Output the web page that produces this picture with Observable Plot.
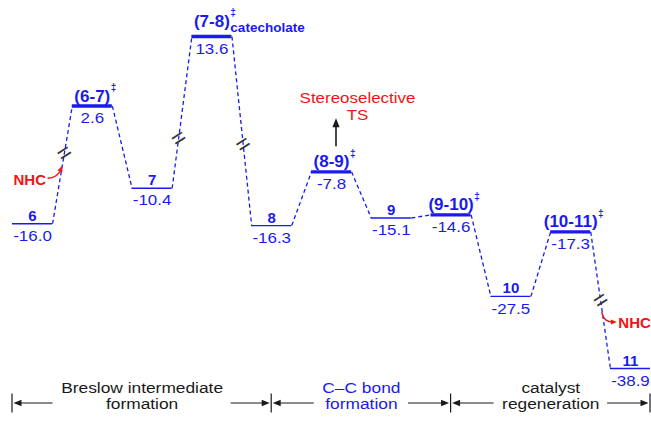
<!DOCTYPE html>
<html><head><meta charset="utf-8">
<script src="https://cdn.jsdelivr.net/npm/d3@7"></script>
<script src="https://cdn.jsdelivr.net/npm/@observablehq/plot@0.6"></script>
<style>body{margin:0;background:#fff;} #chart{width:651px;height:423px;}</style>
</head><body><div id="chart"></div>
<script>
// ---------------- data ----------------
const stages = ["6", "(6-7)", "7", "(7-8)", "8", "(8-9)", "9", "(9-10)", "10", "(10-11)", "11"];
const energies = [-16.0, 2.6, -10.4, 13.6, -16.3, -7.8, -15.1, -14.6, -27.5, -17.3, -38.9];
const valueLabels = ["-16.0", "2.6", "-10.4", "13.6", "-16.3", "-7.8", "-15.1", "-14.6", "-27.5", "-17.3", "-38.9"];
const transitionStates = ["(6-7)", "(7-8)", "(8-9)", "(9-10)", "(10-11)"];
const tsSubscripts = {"(7-8)": "catecholate"};
const brokenLinks = [0, 2, 3, 9];        // connectors (by starting stage) drawn with an axis break
const nhcAddedLink = 0;                   // NHC enters on this connector
const nhcReleasedLink = 9;                // NHC leaves on this connector
const stereoStage = "(8-9)";
const stereoLabel = "Stereoselective\nTS";
const nhcLabel = "NHC";
const sectionLabels = ["Breslow intermediate\nformation", "C\u2013C bond\nformation", "catalyst\nregeneration"];
const sectionFrom = ["6", "8", "(9-10)"];
const sectionTo = ["8", "(9-10)", "11"];

// ---------------- style ----------------
const BLUE = "#1a1aee", RED = "#f01414", INK = "#1a1a1a";
const FONT = '"Liberation Sans", Arial, Helvetica, sans-serif';
const HW = 0.335;               // half width of a level, in stage units
const REG_SCALE = 1.13;         // horizontal stretch of the regular-weight texts
const BREAK_T = {0: 0.6, 2: 0.33, 3: 0.57, 9: 0.5};
const NHC_IN_T = 0.48, NHC_OUT_T = 0.59;
const sectionColors = [INK, BLUE, INK];

// ---------------- derived tables ----------------
const levels = stages.map((s, i) => ({stage: s, i, E: energies[i], label: valueLabels[i], ts: transitionStates.includes(s)}));
const links = levels.slice(0, -1).map((d, k) => ({from: d, to: levels[k + 1], k}));
const along = (k, t) => {
  const l = links[k];
  return {x: l.from.i + HW + t * (1 - 2 * HW), y: l.from.E + t * (l.to.E - l.from.E)};
};
const breaks = brokenLinks.map(k => along(k, BREAK_T[k]));
const nhcIn = along(nhcAddedLink, NHC_IN_T);
const nhcOut = along(nhcReleasedLink, NHC_OUT_T);
const stereo = levels.find(d => d.stage === stereoStage);
const idx = s => stages.indexOf(s);
const sections = sectionLabels.map((label, j) => {
  const lo = idx(sectionFrom[j]) - (j === 0 ? HW : 0);
  const hi = idx(sectionTo[j]) + (j === sectionLabels.length - 1 ? HW : 0);
  return {label, lo, hi, mid: (lo + hi) / 2, color: sectionColors[j]};
});

const measureCtx = document.createElement("canvas").getContext("2d");
function textWidth(str, size, weight = "normal") {
  measureCtx.font = `${weight} ${size}px "Liberation Sans"`;
  return measureCtx.measureText(str).width;
}

function overlay(index, scales, values, dimensions) {
  const X = typeof scales.x === "function" ? scales.x : scales.scales.x.apply;
  const Y = typeof scales.y === "function" ? scales.y : scales.scales.y.apply;
  const g = d3.create("svg:g").attr("aria-label", "annotations");
  const head = (tx, ty, ang, len, half, color) => {
    const c = Math.cos(ang), s = Math.sin(ang);
    const bx = tx - len * c, by = ty - len * s;
    g.append("path")
      .attr("d", `M${tx},${ty}L${bx - half * s},${by + half * c}L${bx + half * s},${by - half * c}Z`)
      .attr("fill", color);
  };
  // NHC entering
  {
    const tx = X(nhcIn.x), ty = Y(nhcIn.y);
    const sx = tx - 14, sy = ty + 11.5, cx = tx - 4, cy = ty + 11.5;
    g.append("path").attr("d", `M${sx},${sy}Q${cx},${cy} ${tx},${ty + 2}`)
      .attr("fill", "none").attr("stroke", RED).attr("stroke-width", 1.4);
    head(tx + 0.5, ty - 1, Math.atan2(ty - cy, tx - cx), 6, 2.6, RED);
  }
  // NHC released
  {
    const sx = X(nhcOut.x), sy = Y(nhcOut.y);
    const ex = sx + 15, ey = sy + 10, cx = sx + 1, cy = sy + 10;
    g.append("path").attr("d", `M${sx},${sy}Q${cx},${cy} ${ex - 3},${ey}`)
      .attr("fill", "none").attr("stroke", RED).attr("stroke-width", 1.4);
    head(ex, ey, 0, 6, 2.6, RED);
  }
  // stereoselective TS arrow
  {
    const ax = X(stereo.i) + 5, ay = Y(stereo.E);
    g.append("line").attr("x1", ax).attr("x2", ax).attr("y1", ay - 25).attr("y2", ay - 46)
      .attr("stroke", INK).attr("stroke-width", 1.6);
    head(ax, ay - 53, -Math.PI / 2, 9, 3.6, INK);
  }
  // bottom brackets
  const rowY = dimensions.height - 20;
  const bounds = new Set();
  for (const sec of sections) {
    const b0 = X(sec.lo), b1 = X(sec.hi), cx = (b0 + b1) / 2;
    bounds.add(b0); bounds.add(b1);
    const w = d3.max(sec.label.split("\n"), l => textWidth(l, 15.5)) * 1.12 / 2 + 8;
    g.append("line").attr("x1", cx - w).attr("x2", b0 + 6).attr("y1", rowY).attr("y2", rowY)
      .attr("stroke", INK).attr("stroke-width", 1.2);
    head(b0 + 1.5, rowY, Math.PI, 8, 3.2, INK);
    g.append("line").attr("x1", cx + w).attr("x2", b1 - 6).attr("y1", rowY).attr("y2", rowY)
      .attr("stroke", INK).attr("stroke-width", 1.2);
    head(b1 - 1.5, rowY, 0, 8, 3.2, INK);
  }
  for (const b of bounds) {
    g.append("line").attr("x1", b).attr("x2", b).attr("y1", rowY - 9.5).attr("y2", rowY + 9.5)
      .attr("stroke", INK).attr("stroke-width", 1.2);
  }
  return g.node();
}

const chart = Plot.plot({
  width: 651,
  height: 423,
  marginLeft: 12,
  marginRight: 1,
  marginTop: 36,
  marginBottom: 55,
  style: {fontFamily: FONT, background: "white", overflow: "visible"},
  x: {domain: [-HW, stages.length - 1 + HW], axis: null},
  y: {domain: d3.extent(energies), axis: null},
  marks: [
    Plot.link(links, {
      x1: d => d.from.i + HW, y1: d => d.from.E,
      x2: d => d.to.i - HW, y2: d => d.to.E,
      stroke: BLUE, strokeWidth: 1.3, strokeDasharray: "4,3"
    }),
    Plot.ruleY(levels.filter(d => !d.ts), {y: "E", x1: d => d.i - HW, x2: d => d.i + HW, stroke: BLUE, strokeWidth: 1.4}),
    Plot.ruleY(levels.filter(d => d.ts), {y: "E", x1: d => d.i - HW, x2: d => d.i + HW, stroke: BLUE, strokeWidth: 3.4}),
    Plot.text(breaks, {x: "x", y: "y", text: () => "=", rotate: -33, fontSize: 24, fill: "#333"}),
    Plot.text(levels.filter(d => !d.ts), {x: "i", y: "E", text: "stage", fontWeight: "bold", fontSize: 15,
      lineAnchor: "bottom", dy: -3, fill: BLUE}),
    Plot.text(levels.filter(d => d.ts), {x: "i", y: "E", text: "stage", fontWeight: "bold", fontSize: 17,
      lineAnchor: "bottom", dy: -4.5, fill: BLUE}),
    Plot.text(levels, {x: "i", y: "E", text: "label", fontSize: 15, lineAnchor: "top", dy: 6.5, fill: BLUE}),
    Plot.text([stereo], {x: "i", y: "E", text: () => stereoLabel, fontSize: 15, lineHeight: 1.08,
      dx: 26, dy: -65.5, fill: RED}),
    Plot.text([nhcIn], {x: "x", y: "y", text: () => nhcLabel, fontWeight: "bold", fontSize: 15,
      textAnchor: "end", dx: -16, dy: 12.5, fill: RED}),
    Plot.text([nhcOut], {x: "x", y: "y", text: () => nhcLabel, fontWeight: "bold", fontSize: 15,
      textAnchor: "start", dx: 16, dy: 10.5, fill: RED}),
    Plot.text(sections, {x: "mid", frameAnchor: "bottom", text: "label", fontSize: 15.5, lineHeight: 1.03,
      dy: 40.4, fill: "color"}),
    overlay
  ]
});
document.getElementById("chart").append(chart);

const allTexts = Array.from(chart.querySelectorAll("text"));
const NS = "http://www.w3.org/2000/svg";

// superscript double dagger and subscript for the transition-state names
allTexts.filter(t => transitionStates.includes(t.textContent) && t.querySelector("tspan") === null).forEach(t => {
  const main = t.textContent;
  const sub = tsSubscripts[main];
  const w = t.getComputedTextLength();
  const x0 = +(t.getAttribute("x") || 0);
  t.setAttribute("text-anchor", "start");
  t.textContent = "";
  const a = document.createElementNS(NS, "tspan");
  a.setAttribute("x", x0 - w / 2);
  if (sub) a.setAttribute("dy", -5.5);
  a.textContent = main;
  t.append(a);
  const b = document.createElementNS(NS, "tspan");
  b.setAttribute("x", x0 + w / 2 + 0.5);
  b.setAttribute("dy", -10.5);
  b.setAttribute("font-size", 10);
  b.textContent = "\u2021";
  t.append(b);
  if (sub) {
    const c = document.createElementNS(NS, "tspan");
    c.setAttribute("x", x0 + w / 2 + 0.5);
    c.setAttribute("dy", 16);
    c.setAttribute("font-size", 13.5);
    c.textContent = sub;
    t.append(c);
  }
});

// horizontal stretch of regular texts (the reference type is set wide)
function stretch(strings, s) {
  allTexts.filter(t => strings.includes(t.textContent)).forEach(t => {
    const tr = t.getAttribute("transform") || "";
    t.setAttribute("transform", `${tr} scale(${s},1)`);
  });
}
stretch(valueLabels, REG_SCALE);
stretch([stereoLabel.replace("\n", "")], REG_SCALE);
stretch(sectionLabels.map(s => s.replace("\n", "")), 1.12);
</script>
</body></html>
